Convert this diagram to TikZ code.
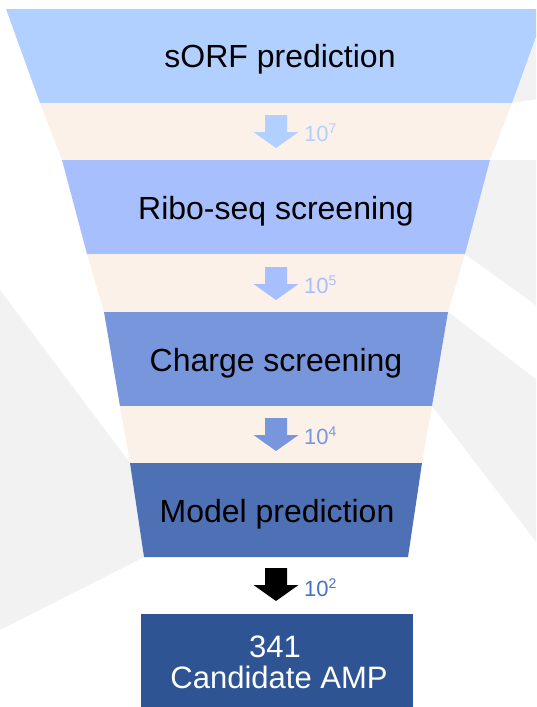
\documentclass[tikz,border=0pt]{standalone}
\usepackage{fontspec}
\setmainfont{Liberation Sans}
\definecolor{bggray}{RGB}{242,242,242}
\definecolor{peach}{RGB}{251,241,232}
\definecolor{tierA}{RGB}{178,208,255}
\definecolor{tierB}{RGB}{168,191,253}
\definecolor{tierC}{RGB}{120,150,220}
\definecolor{tierD}{RGB}{78,112,180}
\definecolor{candblue}{RGB}{47,84,148}
\definecolor{countblue}{RGB}{68,114,196}
\tikzset{
  steplabel/.style={inner sep=0pt, anchor=base, font=\fontsize{32}{38}\selectfont},
  countlabel/.style={inner sep=0pt, anchor=base west, font=\fontsize{22}{26}\selectfont},
  blockarrow/.pic={\fill[pic actions] (-11,0) -- (11,0) -- (11,17) -- (22.5,17)
      -- (0,33) -- (-22.5,17) -- (-11,17) -- cycle;}
}
\newcommand{\supnum}[1]{\raisebox{8pt}{\fontsize{14}{14}\selectfont #1}}
\begin{document}
\begin{tikzpicture}[x=1pt,y=-1pt]
\useasboundingbox (0,0) rectangle (536,707);
\fill[white] (0,0) rectangle (536,707);
\clip (0,0) rectangle (536,707);

% light grey background wedges
\fill[bggray] (540,20) -- (512,103) -- (537,99) -- (537,20) -- cycle;
\fill[bggray] (490,160) -- (537,160) -- (537,306) -- (465,254) -- cycle;
\fill[bggray] (448,312) -- (537,380) -- (537,543) -- (432,406) -- cycle;
\fill[bggray] (0,290) -- (130,463) -- (144,557) -- (0,630) -- cycle;

% funnel tiers
\fill[tierA] (6,9) -- (546,9) -- (512,103) -- (40,103) -- cycle;
\fill[peach] (40,103) -- (512,103) -- (490,160) -- (62,160) -- cycle;
\fill[tierB] (62,160) -- (490,160) -- (465,254) -- (87,254) -- cycle;
\fill[peach] (87,254) -- (465,254) -- (448,312) -- (104,312) -- cycle;
\fill[tierC] (104,312) -- (448,312) -- (432,406) -- (120,406) -- cycle;
\fill[peach] (120,406) -- (432,406) -- (422,463) -- (130,463) -- cycle;
\fill[tierD] (130,463) -- (422,463) -- (408,557) -- (144,557) -- cycle;

% tier titles
\node[steplabel] (sorf)   at (280,67)  {sORF prediction};
\node[steplabel] (ribo)   at (276,219) {Ribo-seq screening};
\node[steplabel] (charge) at (276,371) {Charge screening};
\node[steplabel] (model)  at (277,522) {Model prediction};

% result box
\node[fill=candblue, minimum width=272pt, minimum height=93pt, inner sep=0pt]
  (cand) at (277,660.5) {};
\node[inner sep=0pt, anchor=base, text=white, font=\fontsize{31}{37}\selectfont]
  (candnum) at (275,657) {341};
\node[inner sep=0pt, anchor=base, text=white, font=\fontsize{31}{37}\selectfont]
  (candtxt) at (279,688) {Candidate AMP};

% filtering arrows with counts
\pic[fill=tierA] (a1) at (276,115) {blockarrow};
\node[countlabel, text=tierA] (c1) at (304,141) {10\supnum{7}};
\pic[fill=tierB] (a2) at (276,267) {blockarrow};
\node[countlabel, text=tierB] (c2) at (304,293) {10\supnum{5}};
\pic[fill=tierC] (a3) at (276,418) {blockarrow};
\node[countlabel, text=tierC] (c3) at (304,444) {10\supnum{4}};
\pic[fill=black] (a4) at (276,568) {blockarrow};
\node[countlabel, text=countblue] (c4) at (304,596) {10\supnum{2}};
\end{tikzpicture}
\end{document}
